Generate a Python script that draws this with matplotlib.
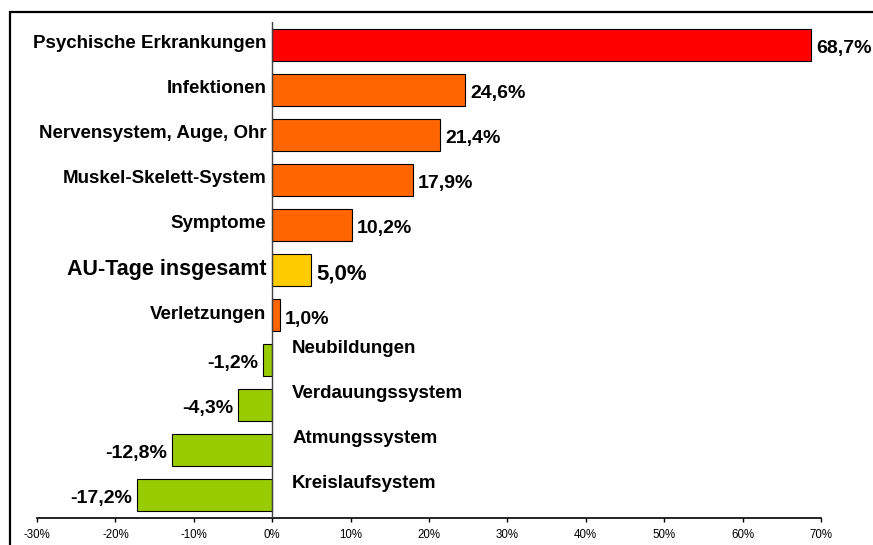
import numpy as np
import matplotlib.pyplot as plt
from matplotlib.patches import Rectangle
from matplotlib.ticker import FuncFormatter

# Data (percent change in AU-Tage)
categories = ["Psychische Erkrankungen", "Infektionen", "Nervensystem, Auge, Ohr",
              "Muskel-Skelett-System", "Symptome", "AU-Tage insgesamt", "Verletzungen",
              "Neubildungen", "Verdauungssystem", "Atmungssystem", "Kreislaufsystem"]
values = [68.7, 24.6, 21.4, 17.9, 10.2, 5.0, 1.0, -1.2, -4.3, -12.8, -17.2]
value_labels = ["68,7%", "24,6%", "21,4%", "17,9%", "10,2%", "5,0%", "1,0%",
                "-1,2%", "-4,3%", "-12,8%", "-17,2%"]
tick_values = [-30, -20, -10, 0, 10, 20, 30, 40, 50, 60, 70]

colors = []
for c, v in zip(categories, values):
    if c == "Psychische Erkrankungen":
        colors.append("#FF0000")
    elif c == "AU-Tage insgesamt":
        colors.append("#FFCC00")
    elif v < 0:
        colors.append("#99CC00")
    else:
        colors.append("#FF6600")

plt.rcParams['font.family'] = ['Liberation Sans', 'DejaVu Sans']

fig = plt.figure(figsize=(8.73, 5.45), dpi=100)
ax = fig.add_axes([37 / 873, 1 - 518 / 545, 784 / 873, 496 / 545])

y = np.arange(len(values))
ax.barh(y, values, height=0.71, color=colors, edgecolor="black", linewidth=0.8, zorder=2)

ax.set_xlim(-30, 70)
ax.set_ylim(len(values) - 0.49, -0.51)
ax.set_xticks(tick_values)
ax.xaxis.set_major_formatter(FuncFormatter(lambda v, p: f"{v:.0f}%"))
ax.tick_params(axis="x", direction="out", length=3, width=1, labelsize=8.3, pad=5,
               colors="black")
ax.set_yticks([])

for s in ["top", "right", "left"]:
    ax.spines[s].set_visible(False)
ax.spines["bottom"].set_linewidth(1.2)
ax.axvline(0, color="#404040", linewidth=1, zorder=3)

px = 72 / 100  # points per pixel
for i, (c, v, lab) in enumerate(zip(categories, values, value_labels)):
    big = c == "AU-Tage insgesamt"
    cat_fs = 15.5 if big else 13.5
    val_fs = 16 if big else 14
    if v >= 0:
        ax.annotate(c, (0, i), xytext=(-6 * px, 1 * px), textcoords="offset points",
                    ha="right", va="center", fontsize=cat_fs, fontweight="bold")
        ax.annotate(lab, (v, i), xytext=(5 * px, -4 * px), textcoords="offset points",
                    ha="left", va="center", fontsize=val_fs, fontweight="bold")
    else:
        ax.annotate(c, (0, i), xytext=(20 * px, 12 * px), textcoords="offset points",
                    ha="left", va="center", fontsize=cat_fs, fontweight="bold")
        ax.annotate(lab, (v, i), xytext=(-5 * px, -3 * px), textcoords="offset points",
                    ha="right", va="center", fontsize=val_fs, fontweight="bold")

# outer chart frame (top and left edges visible)
fig.add_artist(Rectangle((10 / 873, -0.1), 1.2, 1.1 - 12 / 545,
                         transform=fig.transFigure, fill=False,
                         edgecolor="black", linewidth=1.6))

fig.savefig("out.png", dpi=100)
